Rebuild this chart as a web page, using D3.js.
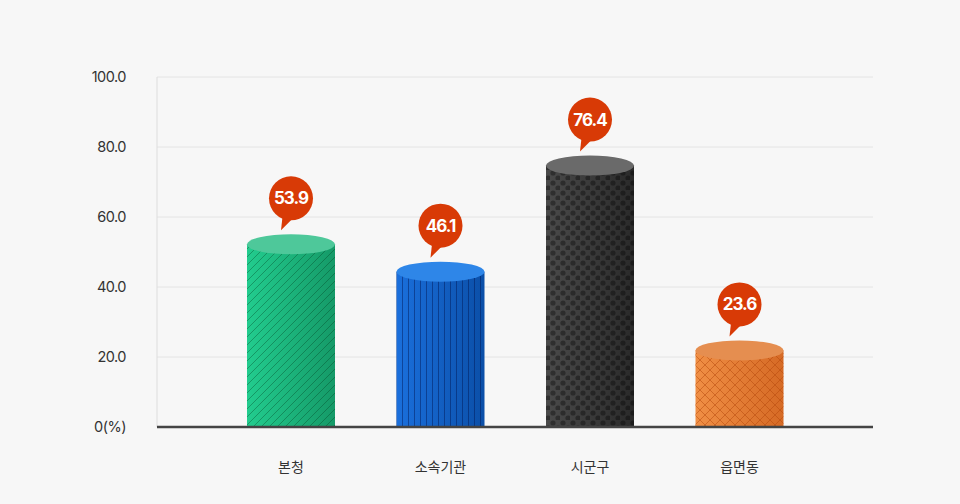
<!DOCTYPE html><html><head><meta charset="utf-8"><script src="https://cdn.jsdelivr.net/npm/d3@7"></script>
<style>body{margin:0;background:#f7f7f7}svg{display:block}</style></head><body><svg width="960" height="504"></svg>
<script>
const categories=["본청","소속기관","시군구","읍면동"];
const values=[53.9,46.1,76.4,23.6];
const ticks=[0,20,40,60,80,100];
const tickLabels=["0(%)","20.0","40.0","60.0","80.0","100.0"];
const colors=[["#22cc8e","#159a68","#4ec89a"],["#1a6fdc","#0b4fa8","#2e86e8"],["#4a4a4a","#2a2a2a","#6a6a6a"],["#f08f45","#d66a25","#e58e50"]];
const svg=d3.select("svg");
const F="Inter, 'Noto Sans CJK KR', sans-serif";
const x=d3.scalePoint().domain(categories).range([291,739.5]);
const y=d3.scaleLinear().domain([0,100]).range([427,77]);
const defs=svg.append("defs");
colors.forEach((c,i)=>{
 const g=defs.append("linearGradient").attr("id","g"+i);
 g.append("stop").attr("offset",0).attr("stop-color",c[0]);
 g.append("stop").attr("offset",1).attr("stop-color",c[1]);
 const p=defs.append("pattern").attr("id","p"+i).attr("patternUnits","userSpaceOnUse");
 if(i==0){p.attr("width",8).attr("height",8).append("path").attr("d","M-2,10L10,-2M-2,2L2,-2M6,10L10,6").attr("stroke","rgba(0,60,30,0.35)");}
 if(i==1){p.attr("width",6).attr("height",6).append("path").attr("d","M0.5,0V6").attr("stroke","rgba(0,20,80,0.45)");}
 if(i==2){p.attr("width",10).attr("height",10);p.append("circle").attr("cx",3).attr("cy",3).attr("r",2.6).attr("fill","rgba(0,0,0,0.35)");p.append("circle").attr("cx",8).attr("cy",8).attr("r",2.6).attr("fill","rgba(0,0,0,0.35)");}
 if(i==3){p.attr("width",10).attr("height",10).append("path").attr("d","M0,0L10,10M10,0L0,10").attr("stroke","rgba(180,70,10,0.5)");}
});
ticks.forEach((t,i)=>{
 if(t>0)svg.append("line").attr("x1",157).attr("x2",873).attr("y1",y(t)).attr("y2",y(t)).attr("stroke","#e4e4e4");
 svg.append("text").attr("x",126).attr("y",y(t)+5).attr("text-anchor","end").attr("font-family",F).attr("font-size",14.5).attr("fill","#333").attr("letter-spacing","-0.5").text(tickLabels[i]);
});
svg.append("line").attr("x1",157).attr("x2",157).attr("y1",77).attr("y2",427).attr("stroke","#ddd");
const w=88,ry=10;
categories.forEach((c,i)=>{
 const cx=x(c),x0=cx-w/2,top=y(values[i])+6;
 const path=`M${x0},${top}V427H${x0+w}V${top}Z`;
 svg.append("path").attr("d",path).attr("fill",`url(#g${i})`);
 svg.append("path").attr("d",path).attr("fill",`url(#p${i})`);
 svg.append("ellipse").attr("cx",cx).attr("cy",top).attr("rx",w/2).attr("ry",ry).attr("fill",colors[i][2]);
 const by=top-46;
 svg.append("path").attr("d",`M${cx-8},${by+14}L${cx-10},${by+32}L${cx+6},${by+16}Z`).attr("fill","#d83a06");
 svg.append("circle").attr("cx",cx).attr("cy",by).attr("r",22).attr("fill","#d83a06");
 svg.append("text").attr("x",cx).attr("y",by+6).attr("text-anchor","middle").attr("font-family",F).attr("font-weight",700).attr("font-size",17).attr("letter-spacing","-1").attr("fill","#fff").text(values[i]);
 svg.append("text").attr("x",cx).attr("y",472).attr("text-anchor","middle").attr("font-family",F).attr("font-size",14).attr("fill","#333").text(c);
});
svg.append("line").attr("x1",157).attr("x2",873).attr("y1",427).attr("y2",427).attr("stroke","#444").attr("stroke-width",2.5);
</script></body></html>
